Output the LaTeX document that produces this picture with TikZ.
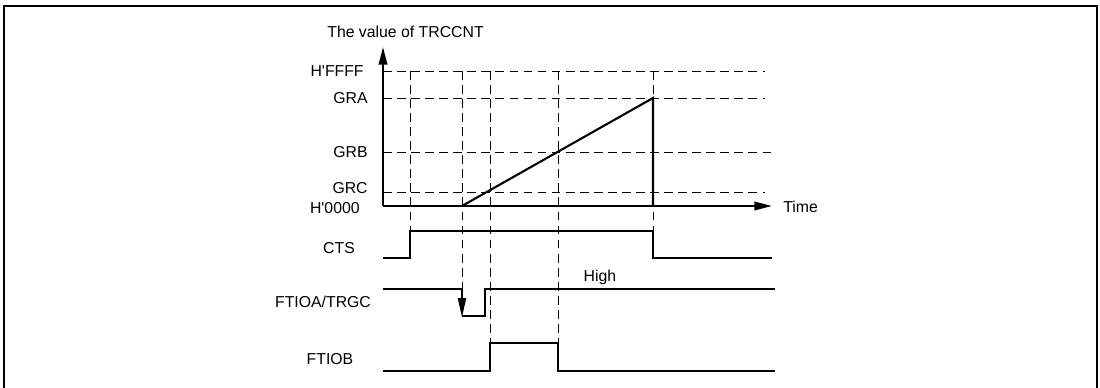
\documentclass[tikz,border=0pt]{standalone}
\usepackage{fontspec}
\setmainfont{Liberation Sans}
\usetikzlibrary{arrows.meta}

\tikzset{
  signal/.style={line width=1.2pt, line join=miter},
  guide/.style={line width=0.55pt, dash pattern=on 5pt off 3pt},
  lbl/.style={font=\fontsize{9}{11}\selectfont, inner sep=0pt},
  tip/.style={-{Triangle[length=10pt, width=4.8pt]}},
}

\begin{document}
\begin{tikzpicture}[x=0.02cm, y=-0.02cm]
\useasboundingbox (0,0) rectangle (1100,388);

% Outer frame (bottom edge lies below the page)
\draw[line width=1.5pt] (4,388) -- (4,6) -- (1097,6) -- (1097,388);

% Time instants
\def\tcts{410}
\def\ttrg{462}
\def\trise{485}
\def\tgrc{490}
\def\tgrb{558}
\def\tgra{653}

% Counter axes
\coordinate (O) at (383,206);
\coordinate (Ytop) at (383,47);
\coordinate (Xend) at (772,206);

% Levels of the counter
\coordinate (LF) at (383,71);
\coordinate (LA) at (383,98);
\coordinate (LB) at (383,152);
\coordinate (LC) at (383,192);

% Dashed level lines
\draw[guide] (LF) -- (765,71);
\draw[guide] (LA) -- (765,98);
\draw[guide] (LB) -- (772,152);
\draw[guide] (LC) -- (765,192);

% Dashed time lines
\draw[guide] (\tcts,71) -- (\tcts,231);
\draw[guide] (\tgrc,71) -- (\tgrc,343);
\draw[guide] (\tgrb,71) -- (\tgrb,343);
\draw[guide] (\tgra,71) -- (\tgra,231);
\draw[guide] (\ttrg,71) -- (\ttrg,289);

\draw[signal, tip] (O) -- (Ytop);
\draw[signal, tip] (O) -- (Xend);

% Counter ramp, cleared at GRA
\draw[signal] (\ttrg,206) -- (\tgra,98) -- (\tgra,206);

% CTS
\draw[signal] (383,258) -- (\tcts,258) -- (\tcts,231) -- (\tgra,231)
  -- (\tgra,258) -- (772,258);

% FTIOA/TRGC
\draw[signal] (383,289) -- (\ttrg,289);
\draw[signal, -{Triangle[length=11pt, width=4.5pt]}] (\ttrg,289) -- (\ttrg,317.5);
\draw[signal] (\ttrg,316) -- (\trise,316) -- (\trise,289) -- (775,289);

% FTIOB
\draw[signal] (383,371) -- (\tgrc,371) -- (\tgrc,343) -- (\tgrb,343)
  -- (\tgrb,371) -- (775,371);

% Labels
\node[lbl, anchor=west] (title) at (327,32) {The value of TRCCNT};
\node[lbl, anchor=west] (time) at (783,207) {Time};
\node[lbl, anchor=east] (hffff) at (364,71) {H\textquotesingle FFFF};
\node[lbl, anchor=east] (gra) at (368,98) {GRA};
\node[lbl, anchor=east] (grb) at (368,152) {GRB};
\node[lbl, anchor=east] (grc) at (368,188) {GRC};
\node[lbl, anchor=east] (h0000) at (360,208) {H\textquotesingle 0000};
\node[lbl] (cts) at (339,248) {CTS};
\node[lbl] (ftioa) at (323,302) {FTIOA/TRGC};
\node[lbl] (ftiob) at (330,359) {FTIOB};
\node[lbl] (high) at (600,277) {High};
\end{tikzpicture}
\end{document}
